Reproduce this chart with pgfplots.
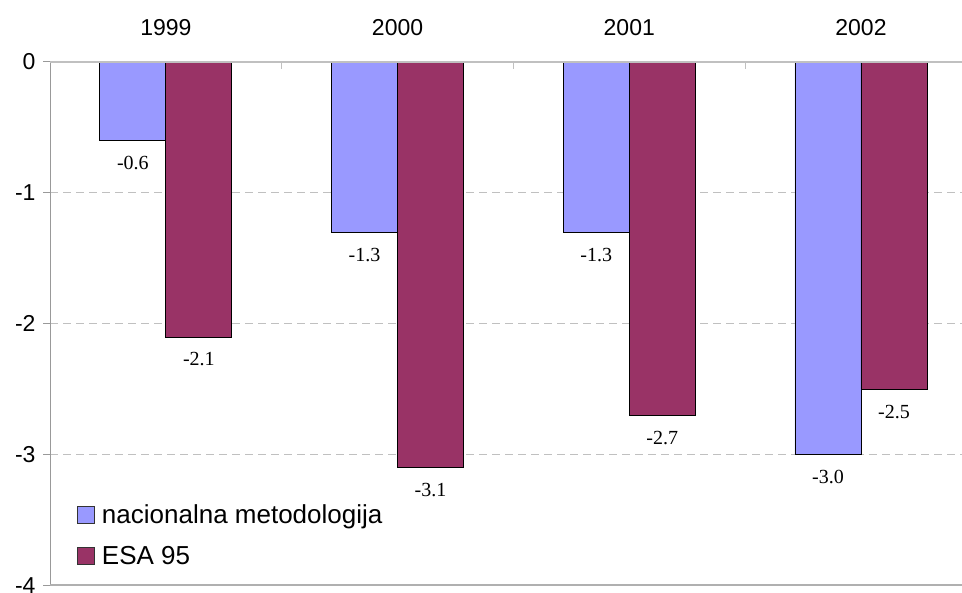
\documentclass[border=0pt]{standalone}
\usepackage{pgfplots}
\pgfplotsset{compat=1.18}
\usepackage{fontspec}
\setmainfont{Liberation Sans}
\newfontfamily\labelfont{Liberation Serif}

\definecolor{natblue}{HTML}{9999FF}
\definecolor{esared}{HTML}{993366}
\definecolor{gridgray}{HTML}{C0C0C0}
\definecolor{axisgray}{HTML}{999999}
\definecolor{basegray}{HTML}{B0B0B0}

\begin{document}
\begin{tikzpicture}
\begin{axis}[
  at={(50pt,7.3pt)}, anchor=south west,
  scale only axis, width=912pt, height=523.7pt,
  xmin=-0.5, xmax=3.436, ymin=-4, ymax=0,
  ybar=0pt, bar width=66pt,
  axis line style={draw=none},
  /pgf/number format/assume math mode=true,
  % category boundaries: short ticks hanging from the zero line
  xtick={0.5,1.5,2.5,3.5}, xticklabels={},
  xtick pos=right, xticklabel pos=right,
  xtick align=inside,
  x tick style={draw=gridgray, line width=1.2pt},
  % year labels above the zero line
  extra x ticks={0,1,2,3},
  extra x tick labels={1999,2000,2001,2002},
  extra x tick style={major tick length=0pt, grid=none},
  xticklabel style={font=\fontsize{23}{26}\selectfont, yshift=23pt},
  ytick={-4,-3,-2,-1,0},
  ytick pos=left,
  ytick align=outside,
  major tick length=7pt,
  y tick style={draw=axisgray, line width=1pt},
  yticklabel style={font=\fontsize{23}{26}\selectfont, xshift=-4pt},
  ymajorgrids,
  y grid style={draw=gridgray, line width=1pt, dash pattern=on 8pt off 5pt},
  nodes near coords={\pgfmathprintnumber[fixed,fixed zerofill,precision=1,assume math mode=true]{\pgfplotspointmeta}},
  point meta=y,
  every node near coord/.append style={font=\labelfont\fontsize{20}{22}\selectfont, text=black, yshift=-12pt},
  legend style={draw=none, fill=none, at={(0.0299,0.0281)}, anchor=south west,
    font=\fontsize{26}{28}\selectfont, inner sep=0pt, row sep=17pt,
    nodes={inner sep=0pt, text height=18pt, text depth=6pt},
    /tikz/every odd column/.append style={column sep=6.7pt}},
  legend cell align=left,
  legend image code/.code={\draw[#1, draw=black!80, line width=0.8pt] (0pt,-6pt) rectangle (17pt,11pt);},
]
\addplot[fill=natblue, draw=black, line width=0.8pt] coordinates {(0,-0.6) (1,-1.3) (2,-1.3) (3,-3.0)};
\addplot[fill=esared, draw=black, line width=0.8pt] coordinates {(0,-2.1) (1,-3.1) (2,-2.7) (3,-2.5)};
\legend{nacionalna metodologija, ESA 95}
% axis frame: left axis, zero line on top, base line at the bottom
\draw[axisgray, line width=1.2pt] (rel axis cs:0,0) -- (rel axis cs:0,1);
\draw[gridgray, line width=2pt] ([xshift=-7pt]rel axis cs:0,1) -- (rel axis cs:1,1);
\draw[basegray, line width=3pt] ([xshift=-7pt]rel axis cs:0,0) -- (rel axis cs:1,0);
\end{axis}
\pgfresetboundingbox
\useasboundingbox (0,0) rectangle (962pt,593pt);
\end{tikzpicture}
\end{document}
